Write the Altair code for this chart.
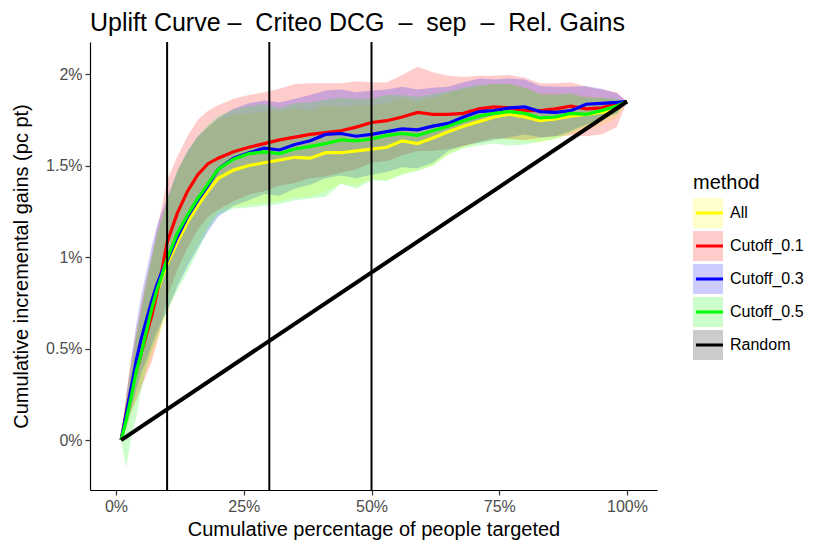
import altair as alt
import pandas as pd

# ---------------- data ----------------
pct_targeted = [1, 2, 3, 4, 5, 6, 7, 8, 9, 10, 12, 14, 16, 18, 20, 23, 26, 29, 32, 35, 38, 41,
                44, 47, 50, 53, 56, 59, 62, 65, 68, 71, 74, 77, 80, 83, 86, 89, 92, 95, 98, 100]

all_mean = [0, .13, .27, .40, .51, .61, .70, .80, .89, .96, 1.08, 1.19, 1.28, 1.36, 1.43, 1.475, 1.50, 1.515,
            1.53, 1.545, 1.54, 1.57, 1.57, 1.58, 1.59, 1.60, 1.635, 1.62, 1.65, 1.685, 1.715, 1.74, 1.765,
            1.78, 1.765, 1.745, 1.755, 1.77, 1.78, 1.79, 1.81, 1.85]
all_hi = [0, .25, .44, .61, .76, .89, 1.00, 1.12, 1.22, 1.30, 1.47, 1.57, 1.65, 1.71, 1.75, 1.775, 1.785, 1.795,
          1.80, 1.815, 1.80, 1.83, 1.82, 1.83, 1.83, 1.84, 1.865, 1.85, 1.87, 1.895, 1.915, 1.93, 1.945,
          1.95, 1.925, 1.895, 1.895, 1.89, 1.88, 1.87, 1.86, 1.85]
all_lo = [0, .05, .14, .23, .31, .38, .45, .53, .61, .67, .86, .97, 1.07, 1.17, 1.25, 1.275, 1.285, 1.295,
          1.305, 1.325, 1.33, 1.36, 1.40, 1.39, 1.425, 1.42, 1.455, 1.475, 1.50, 1.56, 1.60, 1.625, 1.64,
          1.645, 1.635, 1.625, 1.645, 1.67, 1.69, 1.72, 1.76, 1.85]

c01_mean = [0, .15, .28, .38, .48, .58, .68, .80, .93, 1.08, 1.24, 1.36, 1.45, 1.51, 1.54, 1.575, 1.60, 1.62,
            1.64, 1.655, 1.67, 1.68, 1.69, 1.71, 1.735, 1.745, 1.765, 1.79, 1.78, 1.78, 1.785, 1.81, 1.82,
            1.815, 1.80, 1.80, 1.81, 1.825, 1.81, 1.815, 1.84, 1.85]
c01_hi = [0, .25, .44, .59, .74, .88, 1.01, 1.15, 1.28, 1.42, 1.55, 1.66, 1.75, 1.80, 1.83, 1.865, 1.885, 1.90,
          1.92, 1.945, 1.95, 1.95, 1.95, 1.96, 1.955, 1.955, 1.995, 2.04, 2.01, 1.99, 1.985, 1.99, 1.99,
          1.995, 1.98, 1.95, 1.95, 1.955, 1.93, 1.915, 1.90, 1.85]
c01_lo = [0, .09, .16, .22, .29, .36, .43, .53, .64, .78, .93, 1.05, 1.15, 1.22, 1.26, 1.305, 1.34, 1.36,
          1.39, 1.405, 1.43, 1.44, 1.46, 1.48, 1.515, 1.525, 1.555, 1.58, 1.58, 1.59, 1.605, 1.63, 1.65,
          1.645, 1.64, 1.65, 1.66, 1.665, 1.66, 1.67, 1.71, 1.85]

c03_mean = [0, .14, .29, .44, .56, .66, .76, .85, .92, .98, 1.11, 1.22, 1.31, 1.39, 1.48, 1.54, 1.57, 1.595,
            1.585, 1.615, 1.635, 1.67, 1.675, 1.66, 1.67, 1.685, 1.70, 1.695, 1.715, 1.73, 1.765, 1.795, 1.80,
            1.815, 1.82, 1.795, 1.79, 1.80, 1.835, 1.84, 1.845, 1.85]
c03_hi = [0, .24, .45, .64, .80, .93, 1.06, 1.17, 1.25, 1.32, 1.47, 1.58, 1.66, 1.71, 1.76, 1.81, 1.84, 1.855,
          1.845, 1.865, 1.885, 1.91, 1.915, 1.90, 1.91, 1.915, 1.93, 1.915, 1.925, 1.93, 1.955, 1.975, 1.97,
          1.975, 1.97, 1.935, 1.93, 1.93, 1.935, 1.92, 1.895, 1.85]
c03_lo = [0, .06, .17, .28, .37, .44, .52, .59, .65, .70, .84, .95, 1.05, 1.14, 1.22, 1.28, 1.31, 1.345,
          1.335, 1.375, 1.395, 1.43, 1.445, 1.43, 1.45, 1.465, 1.49, 1.485, 1.515, 1.58, 1.61, 1.625, 1.64,
          1.655, 1.67, 1.655, 1.66, 1.69, 1.725, 1.76, 1.785, 1.85]

c05_mean = [0, .11, .24, .38, .48, .60, .72, .82, .90, .99, 1.13, 1.23, 1.32, 1.40, 1.48, 1.535, 1.565, 1.575,
            1.565, 1.59, 1.605, 1.62, 1.64, 1.635, 1.645, 1.665, 1.675, 1.665, 1.69, 1.715, 1.745, 1.77, 1.785,
            1.795, 1.785, 1.76, 1.765, 1.785, 1.78, 1.80, 1.825, 1.85]
c05_hi = [0, .21, .39, .57, .71, .86, 1.00, 1.12, 1.21, 1.31, 1.47, 1.58, 1.66, 1.72, 1.77, 1.805, 1.825, 1.835,
          1.815, 1.84, 1.845, 1.86, 1.87, 1.865, 1.865, 1.885, 1.885, 1.875, 1.89, 1.905, 1.925, 1.94, 1.945,
          1.945, 1.925, 1.89, 1.885, 1.895, 1.87, 1.87, 1.865, 1.85]
c05_lo = [0, -.15, .02, .13, .28, .40, .49, .56, .64, .71, .82, .92, 1.03, 1.15, 1.23, 1.265, 1.27, 1.28,
          1.29, 1.31, 1.32, 1.33, 1.40, 1.375, 1.42, 1.415, 1.45, 1.47, 1.50, 1.56, 1.595, 1.61, 1.62,
          1.61, 1.615, 1.63, 1.645, 1.68, 1.72, 1.75, 1.78, 1.85]

random_pct = [1, 100]
random_gain = [0, 1.85]

cutoff_lines = [10, 30, 50]

methods = ["All", "Cutoff_0.1", "Cutoff_0.3", "Cutoff_0.5", "Random"]
method_colors = ["#FFFF00", "#FF0000", "#0000FF", "#00FF00", "#000000"]

x_ticks = [0, 25, 50, 75, 100]
y_ticks = [0, 0.5, 1, 1.5, 2]

# ---------------- build tables ----------------
series = {
    "All": (all_mean, all_lo, all_hi),
    "Cutoff_0.1": (c01_mean, c01_lo, c01_hi),
    "Cutoff_0.3": (c03_mean, c03_lo, c03_hi),
    "Cutoff_0.5": (c05_mean, c05_lo, c05_hi),
}
rows = []
for m, (mean, lo, hi) in series.items():
    for p, g, l, h in zip(pct_targeted, mean, lo, hi):
        rows.append({"pct": p, "gain": g, "lo": l, "hi": h, "method": m, "method_line": m})
for p, g in zip(random_pct, random_gain):
    rows.append({"pct": p, "gain": g, "lo": g, "hi": g, "method": "Random", "method_line": "Random"})
df = pd.DataFrame(rows)
cut_df = pd.DataFrame({"pct": cutoff_lines})

FONT = "Liberation Sans"
X_TITLE = "Cumulative percentage of people targeted"
Y_TITLE = "Cumulative incremental gains (pc pt)"

xscale = alt.Scale(domain=[-5.09, 105.87], nice=False, zero=False)
yscale = alt.Scale(domain=[-0.273, 2.175], nice=False, zero=False)
x_axis = alt.Axis(values=x_ticks, labelExpr="datum.value + '%'", grid=False)
y_axis = alt.Axis(values=y_ticks, labelExpr="datum.value + '%'", grid=False)

X = alt.X("pct:Q", scale=xscale, axis=x_axis, title=X_TITLE)

LEG_X, LEG_Y = 603, 131
legend_common = dict(
    orient="none", legendX=LEG_X, legendY=LEG_Y,
    titleFont=FONT, titleFontSize=20, titleFontWeight="normal", titleColor="black",
    titlePadding=5, symbolSize=900, clipHeight=30, rowPadding=3,
    labelFont=FONT, labelFontSize=16, labelColor="black", labelOffset=4, padding=0,
)

# key backgrounds (ribbon fills); the line legend drawn over it carries the texts
ribbons = alt.Chart(df).mark_area(opacity=0.2).encode(
    x=X,
    y=alt.Y("lo:Q", scale=yscale, axis=y_axis, title=Y_TITLE),
    y2="hi:Q",
    fill=alt.Fill(
        "method:N",
        scale=alt.Scale(domain=methods, range=method_colors),
        legend=alt.Legend(
            title=" ", labelExpr="''",
            symbolType="square", symbolOpacity=0.2, symbolStrokeWidth=0,
            **legend_common,
        ),
    ),
)

# stroke scale keeps the data-derived (alphabetical) domain so its legend stays separate
lines = alt.Chart(df).mark_line().encode(
    x=X,
    y=alt.Y("gain:Q", scale=yscale, axis=y_axis, title=Y_TITLE),
    stroke=alt.Stroke(
        "method_line:N",
        scale=alt.Scale(range=method_colors),
        legend=alt.Legend(
            title="method",
            symbolType="M-0.9,0H0.9", symbolStrokeWidth=3,
            symbolFillColor="transparent", symbolOpacity=1, **legend_common,
        ),
    ),
    strokeWidth=alt.condition("datum.method_line == 'Random'", alt.value(4), alt.value(3.2)),
)

vlines = alt.Chart(cut_df).mark_rule(color="black", strokeWidth=2).encode(x=X)

chart = alt.layer(ribbons, lines, vlines).properties(
    width=567,
    height=448,
    autosize=alt.AutoSizeParams(type="none"),
    padding={"left": 82, "top": 34, "right": 165, "bottom": 56},
    title=alt.TitleParams(
        text="Uplift Curve –\u00a0 Criteo DCG\u00a0 –\u00a0 sep\u00a0 –\u00a0 Rel. Gains",
        anchor="start", frame="group", font=FONT, fontSize=25, fontWeight="normal",
        color="black", offset=5,
    ),
).configure_view(strokeWidth=0).configure_axis(
    domainColor="black", domainWidth=1.2, tickColor="#333333", tickWidth=1.2, tickSize=5,
    labelFont=FONT, labelFontSize=16, labelColor="#4D4D4D", labelPadding=3,
    titleFont=FONT, titleFontSize=20, titleFontWeight="normal", titleColor="black",
).configure_axisX(titlePadding=5).configure_axisY(titlePadding=14)

chart.save("out.html", embed_options={"renderer": "svg", "actions": False})
